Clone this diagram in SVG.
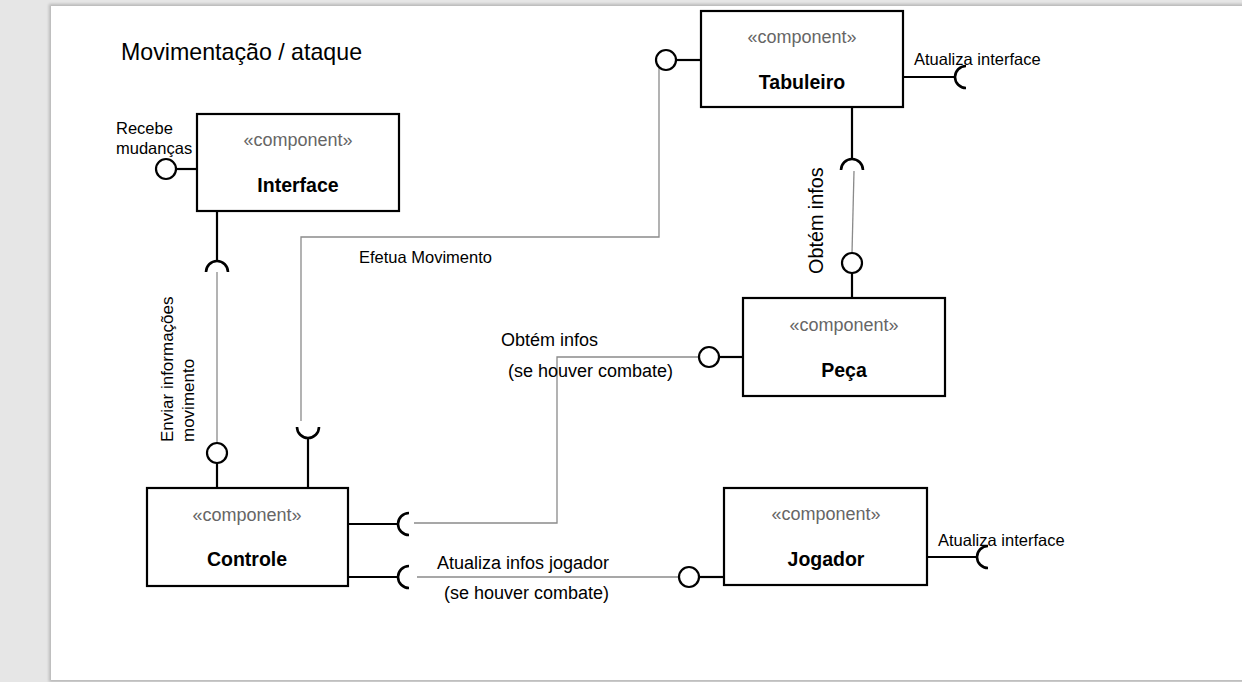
<svg xmlns="http://www.w3.org/2000/svg" width="1242" height="682" viewBox="0 0 1242 682">
<style>
text{font-family:"Liberation Sans",Arial,sans-serif;fill:#000}
.box{fill:#fff;stroke:#000;stroke-width:2.2}
.st{font-size:18px;fill:#666;text-anchor:middle}
.nm{font-size:19.5px;font-weight:bold;text-anchor:middle}
.k{stroke:#000;stroke-width:2.2;fill:none}
.g{stroke:#8a8a8a;stroke-width:1.3;fill:none}
.ball{fill:#fff;stroke:#000;stroke-width:2.2}
.sock{fill:none;stroke:#000;stroke-width:2.6}
.lb{font-size:16.5px}
.lb2{font-size:18px}
</style>
<defs>
<filter id="sh" x="-5%" y="-5%" width="110%" height="110%"><feGaussianBlur stdDeviation="1.5"/></filter>
</defs>
<rect x="0" y="0" width="1242" height="682" fill="#e6e6e6"/>
<rect x="49" y="4" width="1197" height="678" fill="#b8b8b8" filter="url(#sh)"/>
<rect x="51" y="6" width="1191" height="674" fill="#fff"/>
<text x="121" y="60" font-size="23.2">Movimentação / ataque</text>

<g id="connectors">
  <!-- Interface provided (left) -->
  <line class="k" x1="176" y1="169" x2="197" y2="169"/>
  <!-- Interface -> Controle -->
  <line class="k" x1="217" y1="211" x2="217" y2="261"/>
  <line class="g" x1="217" y1="272" x2="217" y2="443"/>
  <line class="k" x1="217" y1="463" x2="217" y2="488"/>
  <!-- Efetua Movimento -->
  <line class="k" x1="308" y1="488" x2="308" y2="438"/>
  <path class="g" d="M301,421 V237 H659 V62"/>
  <line class="k" x1="676" y1="60" x2="701" y2="60"/>
  <!-- Tabuleiro right -->
  <line class="k" x1="903" y1="77" x2="955" y2="77"/>
  <!-- Tabuleiro -> Peca -->
  <line class="k" x1="852" y1="107" x2="852" y2="159"/>
  <line class="g" x1="854" y1="171" x2="852" y2="253"/>
  <line class="k" x1="852" y1="273" x2="852" y2="298"/>
  <!-- Peca -> Controle -->
  <line class="k" x1="719" y1="357" x2="743" y2="357"/>
  <path class="g" d="M699,357 H557 V523 H414"/>
  <line class="k" x1="348" y1="524" x2="398" y2="524"/>
  <!-- Controle -> Jogador -->
  <line class="k" x1="348" y1="577" x2="398" y2="577"/>
  <line class="g" x1="417" y1="577" x2="679" y2="577"/>
  <line class="k" x1="699" y1="577" x2="724" y2="577"/>
  <!-- Jogador right -->
  <line class="k" x1="927" y1="557" x2="977" y2="557"/>

  <!-- balls -->
  <circle class="ball" cx="166" cy="169" r="10"/>
  <circle class="ball" cx="217" cy="453" r="10"/>
  <circle class="ball" cx="666" cy="60" r="10"/>
  <circle class="ball" cx="852" cy="263" r="10"/>
  <circle class="ball" cx="709" cy="357" r="10"/>
  <circle class="ball" cx="689" cy="577" r="10"/>
  <!-- sockets -->
  <path class="sock" d="M206,272 A11,11 0 0 1 228,272"/>
  <path class="sock" d="M297,427 A11,11 0 0 0 319,427"/>
  <path class="sock" d="M966,66 A11,11 0 0 0 966,88"/>
  <path class="sock" d="M841,170 A11,11 0 0 1 863,170"/>
  <path class="sock" d="M409,513 A11,11 0 0 0 409,535"/>
  <path class="sock" d="M409,566 A11,11 0 0 0 409,588"/>
  <path class="sock" d="M988,546 A11,11 0 0 0 988,568"/>

  <!-- labels -->
  <text class="lb" x="116" y="134">Recebe</text>
  <text class="lb" x="116" y="154">mudanças</text>
  <text font-size="17" transform="translate(173,442) rotate(-90)">Enviar informações</text>
  <text font-size="17" transform="translate(194,442) rotate(-90)">movimento</text>
  <text class="lb" x="359" y="263">Efetua Movimento</text>
  <text class="lb" x="914" y="65">Atualiza interface</text>
  <text font-size="19.8" transform="translate(823,274) rotate(-90)">Obtém infos</text>
  <text class="lb2" x="501" y="346">Obtém infos</text>
  <text class="lb2" x="508" y="377">(se houver combate)</text>
  <text class="lb2" x="437" y="569">Atualiza infos jogador</text>
  <text class="lb2" x="444" y="599">(se houver combate)</text>
  <text class="lb" x="938" y="546">Atualiza interface</text>
</g>

<g id="interface">
  <rect class="box" x="197" y="114" width="202" height="97"/>
  <text class="st" x="298" y="146">«component»</text>
  <text class="nm" x="298" y="192">Interface</text>
</g>
<g id="tabuleiro">
  <rect class="box" x="701" y="11" width="202" height="96"/>
  <text class="st" x="802" y="43">«component»</text>
  <text class="nm" x="802" y="89">Tabuleiro</text>
</g>
<g id="peca">
  <rect class="box" x="743" y="298" width="202" height="98"/>
  <text class="st" x="844" y="331">«component»</text>
  <text class="nm" x="844" y="377">Peça</text>
</g>
<g id="controle">
  <rect class="box" x="147" y="488" width="201" height="98"/>
  <text class="st" x="247" y="521">«component»</text>
  <text class="nm" x="247" y="566">Controle</text>
</g>
<g id="jogador">
  <rect class="box" x="724" y="488" width="203" height="97"/>
  <text class="st" x="826" y="520">«component»</text>
  <text class="nm" x="826" y="566">Jogador</text>
</g>
</svg>
